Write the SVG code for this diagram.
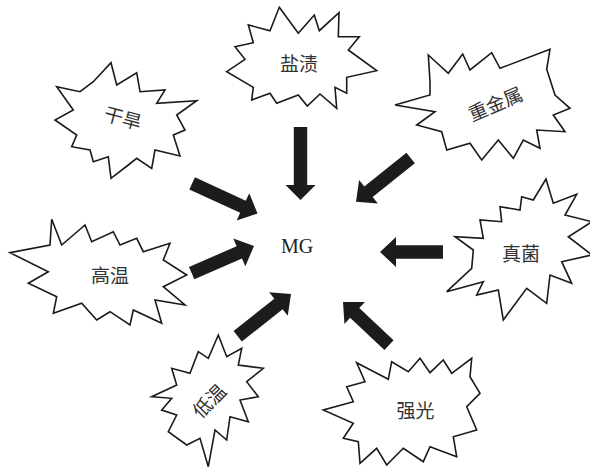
<svg xmlns="http://www.w3.org/2000/svg" width="590" height="471" viewBox="0 0 590 471">
<style>
.burst{fill:#fff;stroke:#1a1a1a;stroke-width:1.6;stroke-linejoin:miter}
.lbl{font-family:"Noto Sans CJK SC","Noto Sans",sans-serif;font-size:19px;fill:#333;text-anchor:middle;dominant-baseline:central}
.mg{font-family:"Liberation Serif",serif;font-size:20px;fill:#222;text-anchor:middle}
.arr{fill:#1c1c1c}
</style>
<rect width="590" height="471" fill="#fff"/>
<g id="yanzi">
<polygon class="burst" points="279.3,7.3 298.3,33.3 314.3,15 319.3,30.7 339,12.7 338.3,36.7 359.3,36.7 348.3,50 376.7,70.7 346.7,77.3 346.7,93.3 335,87.3 336.7,108.3 320,94 307.3,106 298.3,95 276.7,103.3 270,93.3 251.7,100 253.3,87.3 226.7,71.7 245,59.3 235,46.7 253.3,42.7 248.3,25 270,30.7"/>
<text class="lbl" x="299" y="62.5">盐渍</text>
</g>
<g id="ganhan">
<polygon class="burst" points="111,62.7 116.7,85 136.7,72.7 140,91.7 165,90 156.7,103.3 196.7,100.7 176.7,115 185,130 173.3,135 180,156 155,150 151.7,168.3 136.7,158.3 128.3,165 111,178.3 108.3,156.7 93.3,161.7 90,150 71.7,146.7 76.7,135 55,120 73.3,110 56.7,86.7 80,91.7 93.3,81.7"/>
<text class="lbl" x="123.3" y="116.7" transform="rotate(15 123.3 116.7)" font-size="18">干旱</text>
</g>
<g id="zhongjinshu">
<polygon class="burst" points="428.3,55 448.3,73.3 462.7,54 470,70 491.7,52.7 500,68.3 550,49.3 546.7,69.3 555,95 570,108.3 553.3,115 565,131.7 536.7,130 540,148.3 523.3,140 513.3,158.3 498.3,140 481.7,160 470,143.3 446.7,150 441.7,131.7 416.7,125 435,111.7 395,105 430,95 430,81.7"/>
<text class="lbl" x="495" y="102.7" transform="rotate(-23 495 102.7)">重金属</text>
</g>
<g id="gaowen">
<polygon class="burst" points="51.7,219.3 61.7,245 85,225 91.7,241.7 113.3,231.7 120,245 136.7,238.3 143.3,251.7 170,243.3 163.3,260 186.7,275 163.3,286.7 185,305 155,300 161.7,323.3 133.3,310 130,325 110,311.7 96.7,320 81.7,303.3 53.3,313.3 56.7,296.7 28.3,283.3 48.3,271.7 10,252.7 50,245"/>
<text class="lbl" x="110" y="274" font-size="20">高温</text>
</g>
<g id="zhenjun">
<polygon class="burst" points="546,179 553.3,203.3 576.7,194.3 565,215 592,221.7 568.3,236.7 592,255 561.7,261.7 571.7,283.3 550,275 546.7,303.3 526.7,288.3 503.3,320 498.3,290 476.7,295 483.3,281.7 446.7,291.7 471.7,268.3 473.3,250 455,236.7 483.3,238.3 480,220 501.7,221.7 500,206.7 520,210 521.7,196.7 533.3,200"/>
<text class="lbl" x="521" y="252">真菌</text>
</g>
<g id="diwen">
<polygon class="burst" points="218.3,335 226.7,356.7 241.7,348.3 238.3,365 263.3,368.3 246.7,381.7 258.3,396.7 240,400 248.3,421.7 230,416.7 226.7,440 215,430 208.3,466.7 200,438.3 186.7,445 168.3,431.7 176.7,415 161.7,410 171.7,398.3 151.7,396.7 176.7,385 171.7,368.3 190,373.3 198.3,351.7 208.3,358.3"/>
<text class="lbl" x="208.3" y="400" transform="rotate(-45 208.3 400)" font-size="18">低温</text>
</g>
<g id="qiangguang">
<polygon class="burst" points="356.7,362.7 388.3,379.3 391.7,361.7 408.3,371.7 420,358.3 430,372.7 443.3,360 451.7,373.3 471.7,358.3 470,376.7 480,393.3 466.7,406.7 476.7,430 453.3,436.7 456.7,456.7 430,446.7 423.3,461.7 403.3,448.3 386.7,465 376.7,448.3 360,463.3 358.3,441.7 343.3,438.3 353.3,423.3 323.3,410 353.3,401.7 346.7,386.7 365,381.7"/>
<text class="lbl" x="415.5" y="409">强光</text>
</g>
<g id="mg">
<text class="mg" x="297" y="253">MG</text>
</g>
<g id="connectors">
<path class="arr" transform="translate(300.5,200) rotate(90)" d="M-73,-6.7 H-15 V-15 L0,0 L-15,15 V6.7 H-73 Z"/>
<path class="arr" transform="translate(257.5,213.5) rotate(24.8)" d="M-72,-6.7 H-16 V-15 L0,0 L-16,15 V6.7 H-72 Z"/>
<path class="arr" transform="translate(254,246) rotate(-23.5)" d="M-68,-6.7 H-16 V-15 L0,0 L-16,15 V6.7 H-68 Z"/>
<path class="arr" transform="translate(356,201.7) rotate(141.3)" d="M-70,-6.7 H-16 V-15 L0,0 L-16,15 V6.7 H-70 Z"/>
<path class="arr" transform="translate(380,252) rotate(180)" d="M-63,-6.7 H-16 V-15 L0,0 L-16,15 V6.7 H-63 Z"/>
<path class="arr" transform="translate(291,294) rotate(-38.4)" d="M-68,-6.7 H-16 V-15 L0,0 L-16,15 V6.7 H-68 Z"/>
<path class="arr" transform="translate(343,302) rotate(-136.9)" d="M-63,-6.7 H-16 V-15 L0,0 L-16,15 V6.7 H-63 Z"/>
</g>
</svg>
